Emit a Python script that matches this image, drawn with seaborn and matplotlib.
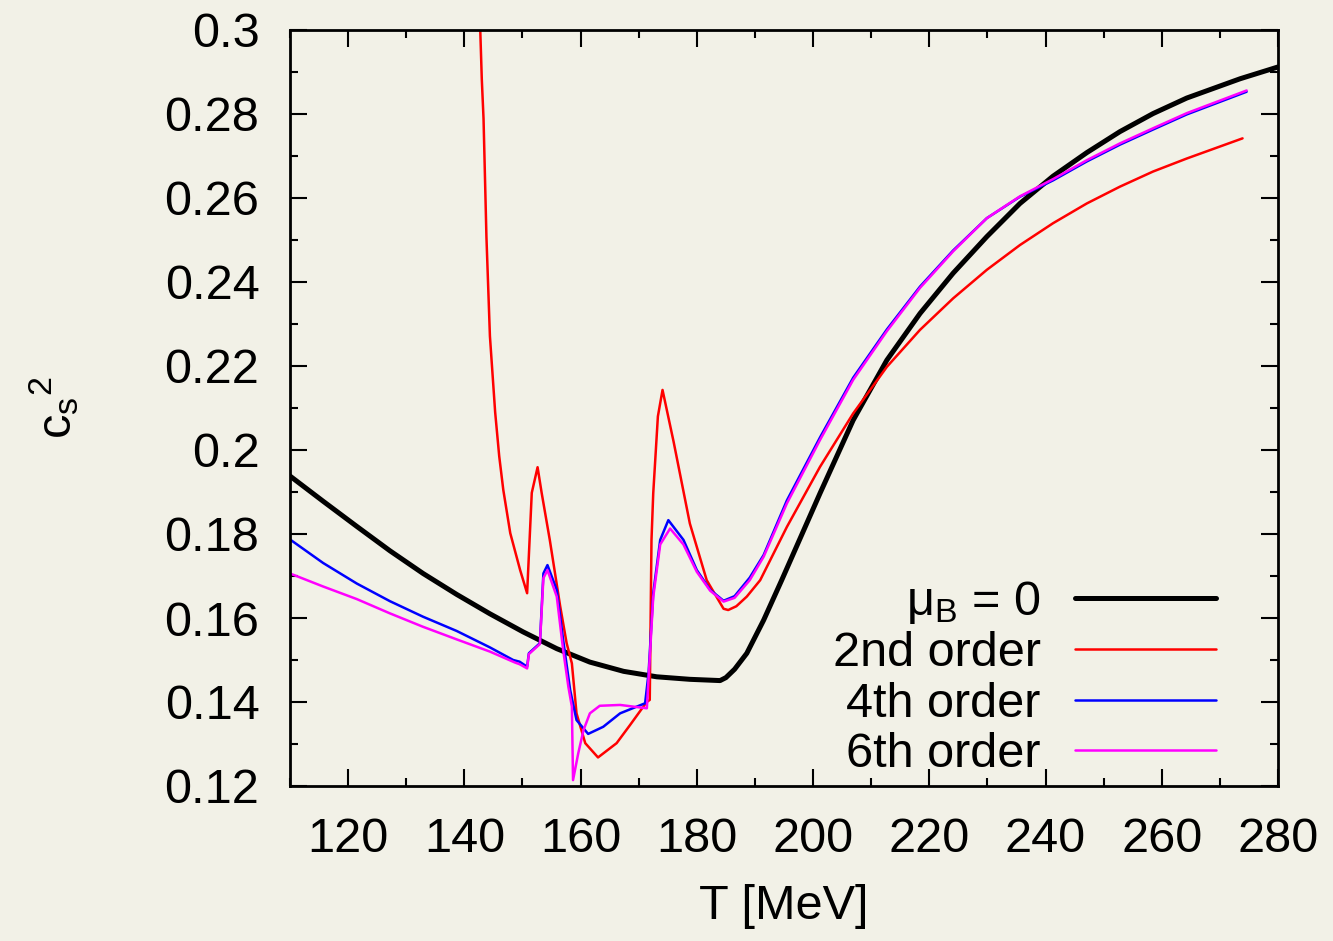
import numpy as np
import pandas as pd
import matplotlib
matplotlib.use("Agg")
import matplotlib.pyplot as plt
from matplotlib.ticker import MultipleLocator, FuncFormatter
import seaborn as sns

# speed of sound squared vs temperature
T_mu0 = [110, 115.7, 121.5, 127.2, 132.9, 138.7, 144.4, 150.1, 155.9, 161.6,
         167.4, 173.1, 178.8, 184.0, 185.0, 186.5, 188.6, 191.5, 194.6, 201.2,
         206.9, 212.7, 218.4, 224.1, 229.9, 235.6, 241.3, 247.1, 252.8, 258.5,
         264.3, 273.5, 280.0]
cs2_mu0 = [0.1938, 0.1878, 0.1818, 0.1760, 0.1706, 0.1656, 0.1610, 0.1567, 0.1527, 0.1495,
           0.1473, 0.1460, 0.1454, 0.1451, 0.1458, 0.1478, 0.1516, 0.1595, 0.1690, 0.1897,
           0.2071, 0.2214, 0.2325, 0.2421, 0.2508, 0.2587, 0.2652, 0.2708, 0.2758, 0.2801,
           0.2838, 0.2884, 0.2912]

T_2nd = [142.6, 143.0, 143.3, 143.8, 144.4, 145.3, 146.0, 146.7, 147.9, 149.6,
         150.8, 151.6, 152.6, 153.3, 154.7, 156.5, 157.6, 158.5, 159.3, 160.8,
         163.0, 166.2, 168.5, 170.8, 171.4, 171.9, 172.2, 172.5, 173.3, 174.1,
         176.0, 178.8, 181.7, 184.6, 185.4, 186.8, 188.6, 190.9, 195.5, 201.2,
         206.9, 212.7, 218.4, 224.1, 229.9, 235.6, 241.3, 247.1, 252.8, 258.5,
         264.3, 273.9]
cs2_2nd = [0.3060, 0.2883, 0.2789, 0.2507, 0.2271, 0.2090, 0.1985, 0.1905, 0.1802, 0.1714,
           0.1659, 0.1898, 0.1959, 0.1898, 0.1786, 0.1627, 0.1540, 0.1492, 0.1373, 0.1302,
           0.1268, 0.1302, 0.1345, 0.1389, 0.1400, 0.1405, 0.1786, 0.1897, 0.2080, 0.2143,
           0.2020, 0.1825, 0.1690, 0.1622, 0.1619, 0.1628, 0.1651, 0.1690, 0.1817, 0.1960,
           0.2087, 0.2198, 0.2286, 0.2361, 0.2429, 0.2488, 0.2540, 0.2587, 0.2627, 0.2663,
           0.2694, 0.2742]

T_4th = [110, 115.7, 121.5, 127.2, 132.9, 138.7, 144.4, 148.4, 149.5, 150.8,
         151.1, 153.0, 153.6, 154.3, 155.9, 157.0, 158.2, 159.3, 161.3, 163.9,
         166.8, 171.1, 171.7, 172.5, 173.7, 175.1, 177.7, 180.0, 182.3, 184.6,
         186.5, 189.1, 191.5, 195.5, 201.2, 206.9, 212.7, 218.4, 224.1, 229.9,
         235.6, 241.3, 247.1, 252.8, 258.5, 264.3, 274.6]
cs2_4th = [0.1787, 0.1731, 0.1682, 0.1640, 0.1603, 0.1569, 0.1530, 0.1500, 0.1496, 0.1484,
           0.1516, 0.1540, 0.1706, 0.1726, 0.1667, 0.1548, 0.1429, 0.1357, 0.1324, 0.1341,
           0.1373, 0.1397, 0.1469, 0.1659, 0.1786, 0.1833, 0.1786, 0.1714, 0.1667, 0.1641,
           0.1652, 0.1696, 0.1750, 0.1880, 0.2030, 0.2172, 0.2287, 0.2389, 0.2475, 0.2552,
           0.2603, 0.2642, 0.2687, 0.2727, 0.2763, 0.2799, 0.2853]

T_6th = [110, 115.7, 121.5, 127.2, 132.9, 138.7, 144.4, 148.7, 149.5, 150.8,
         151.1, 153.0, 153.6, 154.3, 155.9, 157.0, 157.9, 158.5, 158.7, 159.6,
         160.5, 161.6, 163.3, 166.8, 171.4, 172.5, 173.7, 175.4, 177.7, 180.0,
         182.3, 184.6, 186.5, 189.1, 191.5, 195.5, 201.2, 206.9, 212.7, 218.4,
         224.1, 229.9, 235.6, 241.3, 247.1, 252.8, 258.5, 264.3, 274.6]
cs2_6th = [0.1706, 0.1675, 0.1645, 0.1611, 0.1579, 0.1549, 0.1520, 0.1494, 0.1490, 0.1480,
           0.1514, 0.1538, 0.1695, 0.1714, 0.1651, 0.1524, 0.1436, 0.1389, 0.1214, 0.1278,
           0.1333, 0.1373, 0.1391, 0.1393, 0.1385, 0.1650, 0.1775, 0.1813, 0.1775, 0.1710,
           0.1665, 0.1639, 0.1648, 0.1690, 0.1746, 0.1873, 0.2024, 0.2167, 0.2283, 0.2386,
           0.2473, 0.2552, 0.2604, 0.2645, 0.2690, 0.2730, 0.2766, 0.2802, 0.2856]

bg = "#f2f1e7"

sns.set_theme(style="ticks")
plt.rcParams["font.family"] = ["Liberation Sans", "DejaVu Sans"]
plt.rcParams["mathtext.fontset"] = "custom"
plt.rcParams["mathtext.rm"] = "Liberation Sans"
plt.rcParams["mathtext.it"] = "Liberation Sans"
plt.rcParams["mathtext.default"] = "regular"
plt.rcParams["text.color"] = "black"
plt.rcParams["axes.labelcolor"] = "black"
plt.rcParams["xtick.color"] = "black"
plt.rcParams["ytick.color"] = "black"

fig = plt.figure(figsize=(13.33, 9.41), dpi=100, facecolor=bg)
ax = fig.add_axes([290 / 1333, 1 - 786 / 941, 988 / 1333, 756 / 941])
ax.set_facecolor(bg)

curves = [
    (T_mu0, cs2_mu0, "black", 3.6, r"$\mu_B$ = 0"),
    (T_2nd, cs2_2nd, "#ff0000", 1.8, "2nd order"),
    (T_4th, cs2_4th, "#0000ff", 1.8, "4th order"),
    (T_6th, cs2_6th, "#ff00ff", 1.8, "6th order"),
]
for t, v, c, lw, lab in curves:
    df = pd.DataFrame({"T": t, "cs2": v})
    sns.lineplot(data=df, x="T", y="cs2", ax=ax, color=c, linewidth=lw,
                 sort=False, estimator=None, label=lab)

ax.set_xlim(110, 280)
ax.set_ylim(0.12, 0.3)
ax.xaxis.set_major_locator(MultipleLocator(20))
ax.xaxis.set_minor_locator(MultipleLocator(10))
ax.yaxis.set_major_locator(MultipleLocator(0.02))
ax.yaxis.set_minor_locator(MultipleLocator(0.01))
ax.yaxis.set_major_formatter(FuncFormatter(lambda v, p: "{:g}".format(round(v, 3))))
ax.tick_params(which="both", direction="in", top=True, right=True, color="black",
               width=1.5, labelsize=35, labelcolor="black")
ax.tick_params(which="major", length=12)
ax.tick_params(which="minor", length=6)
ax.tick_params(axis="x", pad=22)
ax.tick_params(axis="y", pad=22)
for s in ax.spines.values():
    s.set_color("black")
    s.set_linewidth(2)

ax.set_xlabel("T [MeV]", fontsize=35, labelpad=16)
ax.set_ylabel(r"$c_s{}^2$", fontsize=35, labelpad=60)

leg = ax.legend(loc="lower right", bbox_to_anchor=(0.937, 0.012), frameon=False,
                markerfirst=False, fontsize=35, handlelength=2.9, handletextpad=0.7,
                labelspacing=0.11, borderpad=0, borderaxespad=0)

fig.savefig("out.png", dpi=100, facecolor=bg)
